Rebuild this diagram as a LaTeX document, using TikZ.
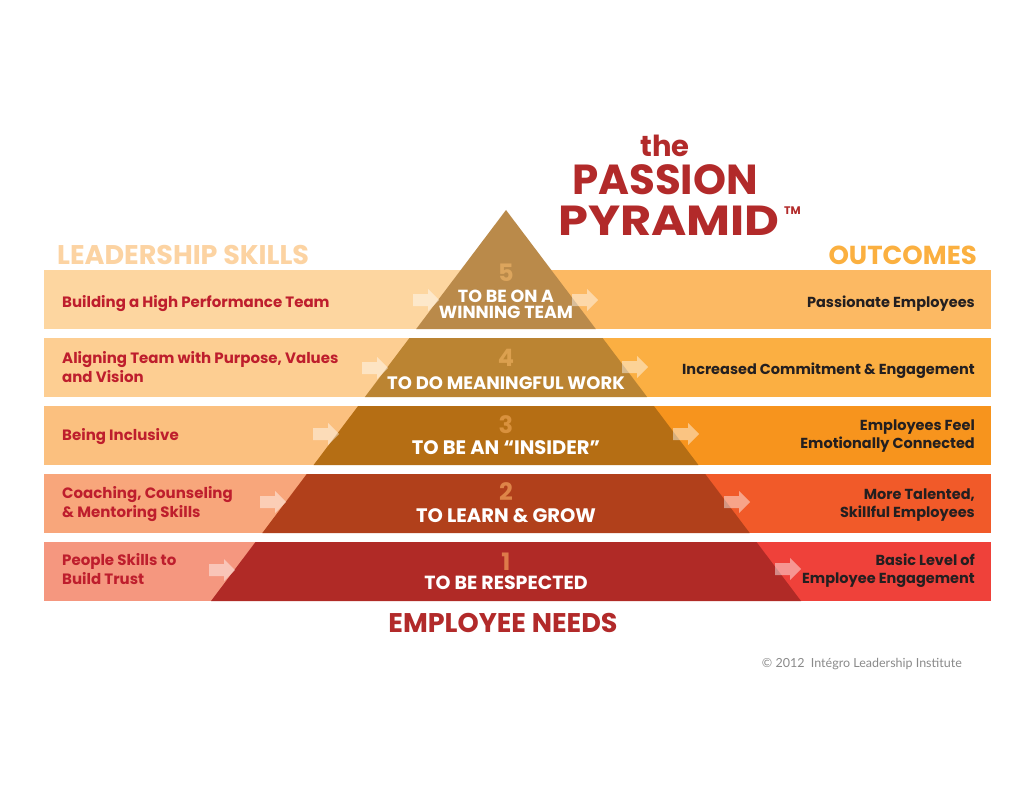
\documentclass[tikz,border=0pt]{standalone}
\usepackage{fontspec}
\setmainfont{Poppins}
\newfontfamily\notefont{Lato}

\definecolor{band5L}{HTML}{FDD6A0}
\definecolor{band5R}{HTML}{FCB963}
\definecolor{pyr5}{HTML}{BA8A4A}
\definecolor{num5}{HTML}{DCA55D}
\definecolor{band4L}{HTML}{FDCE92}
\definecolor{band4R}{HTML}{FBAF42}
\definecolor{pyr4}{HTML}{BB8432}
\definecolor{num4}{HTML}{DBA04F}
\definecolor{band3L}{HTML}{FBC07F}
\definecolor{band3R}{HTML}{F7941D}
\definecolor{pyr3}{HTML}{B56E14}
\definecolor{num3}{HTML}{D9913D}
\definecolor{band2L}{HTML}{F8A67B}
\definecolor{band2R}{HTML}{F15A29}
\definecolor{pyr2}{HTML}{B1401B}
\definecolor{num2}{HTML}{DE8548}
\definecolor{band1L}{HTML}{F5977F}
\definecolor{band1R}{HTML}{EF413A}
\definecolor{pyr1}{HTML}{B02A26}
\definecolor{num1}{HTML}{DE7A4A}
\definecolor{skillred}{HTML}{BE1E2D}
\definecolor{outdark}{HTML}{231F20}
\definecolor{titlered}{HTML}{B22A2A}
\definecolor{headpeach}{HTML}{FCD3A2}
\definecolor{headorange}{HTML}{FBB040}
\definecolor{notegray}{HTML}{8A8A8A}

\begin{document}
\begin{tikzpicture}[x=1pt, y=-1pt,
  skill/.style={anchor=base west, align=left, inner sep=0, text=skillred,
    font=\bfseries\fontsize{15}{19}\selectfont},
  outcome/.style={anchor=base east, align=right, inner sep=0, text=outdark,
    font=\bfseries\fontsize{14.5}{18}\selectfont},
  need/.style={anchor=base, align=center, inner sep=0, text=white,
    font=\bfseries\fontsize{17.5}{15.5}\selectfont},
  level/.style={anchor=base, inner sep=0, font=\bfseries\fontsize{24}{24}\selectfont},
  fwd/.style={fill=white, fill opacity=0.45}]

\fill[white] (0,0) rectangle (1024,791);
\useasboundingbox (0,0) rectangle (1024,791);

% Bands
\fill[band5L] (44,270) rectangle (506,329);
\fill[band5R] (506,270) rectangle (991,329);
\fill[band4L] (44,338) rectangle (506,397);
\fill[band4R] (506,338) rectangle (991,397);
\fill[band3L] (44,406) rectangle (506,465);
\fill[band3R] (506,406) rectangle (991,465);
\fill[band2L] (44,474) rectangle (506,533);
\fill[band2R] (506,474) rectangle (991,533);
\fill[band1L] (44,542) rectangle (506,601);
\fill[band1R] (506,542) rectangle (991,601);

% Pyramid
\fill[pyr5] (506,210) -- (595.8,329) -- (416.2,329) -- cycle;
\fill[pyr4] (409.4,338) -- (602.6,338) -- (647.1,397) -- (364.9,397) -- cycle;
\fill[pyr3] (358.1,406) -- (653.9,406) -- (698.4,465) -- (313.6,465) -- cycle;
\fill[pyr2] (306.8,474) -- (705.2,474) -- (749.7,533) -- (262.3,533) -- cycle;
\fill[pyr1] (255.5,542) -- (756.5,542) -- (801,601) -- (211,601) -- cycle;

% Arrows into the pyramid
\fill[fwd] (413,300) ++(0,-6) -- ++(15,0) -- ++(0,-5) -- ++(11,11) -- ++(-11,11) -- ++(0,-5) -- ++(-15,0) -- cycle;
\fill[fwd] (362,368) ++(0,-6) -- ++(15,0) -- ++(0,-5) -- ++(11,11) -- ++(-11,11) -- ++(0,-5) -- ++(-15,0) -- cycle;
\fill[fwd] (313,434) ++(0,-6) -- ++(15,0) -- ++(0,-5) -- ++(11,11) -- ++(-11,11) -- ++(0,-5) -- ++(-15,0) -- cycle;
\fill[fwd] (260,502) ++(0,-6) -- ++(15,0) -- ++(0,-5) -- ++(11,11) -- ++(-11,11) -- ++(0,-5) -- ++(-15,0) -- cycle;
\fill[fwd] (209,570) ++(0,-6) -- ++(15,0) -- ++(0,-5) -- ++(11,11) -- ++(-11,11) -- ++(0,-5) -- ++(-15,0) -- cycle;

% Arrows out of the pyramid
\fill[fwd] (572,300) ++(0,-6) -- ++(15,0) -- ++(0,-5) -- ++(11,11) -- ++(-11,11) -- ++(0,-5) -- ++(-15,0) -- cycle;
\fill[fwd] (622,367) ++(0,-6) -- ++(15,0) -- ++(0,-5) -- ++(11,11) -- ++(-11,11) -- ++(0,-5) -- ++(-15,0) -- cycle;
\fill[fwd] (673,434) ++(0,-6) -- ++(15,0) -- ++(0,-5) -- ++(11,11) -- ++(-11,11) -- ++(0,-5) -- ++(-15,0) -- cycle;
\fill[fwd] (724,502) ++(0,-6) -- ++(15,0) -- ++(0,-5) -- ++(11,11) -- ++(-11,11) -- ++(0,-5) -- ++(-15,0) -- cycle;
\fill[fwd] (775,569) ++(0,-6) -- ++(15,0) -- ++(0,-5) -- ++(11,11) -- ++(-11,11) -- ++(0,-5) -- ++(-15,0) -- cycle;

% Title
\node[anchor=base, inner sep=0, text=titlered, font=\bfseries\fontsize{29}{29}\selectfont] (the) at (665,157) {the};
\node[anchor=base, inner sep=0, text=titlered, font=\bfseries\fontsize{42}{42}\selectfont] (passion) at (665,195) {PASSION};
\node[anchor=base, inner sep=0, text=titlered, font=\bfseries\fontsize{42}{42}\selectfont] (pyramid) at (669,236) {\scalebox{1.14}[1]{PYRAMID}};
\node[anchor=base west, inner sep=0, text=titlered, font=\bfseries\fontsize{11}{11}\selectfont] (tm) at (784,215) {TM};

% Column heads
\node[anchor=base west, inner sep=0, text=headpeach, font=\bfseries\fontsize{27}{27}\selectfont] (skillhead) at (57,265) {LEADERSHIP SKILLS};
\node[anchor=base east, inner sep=0, text=headorange, font=\bfseries\fontsize{26}{26}\selectfont] (outhead) at (977,265) {OUTCOMES};
\node[anchor=base, inner sep=0, text=titlered, font=\bfseries\fontsize{27}{27}\selectfont] (needhead) at (503,632) {EMPLOYEE NEEDS};

% Leadership skills
\node[skill] (skill5) at (62,307) {Building a High Performance Team};
\node[skill] (skill4) at (62,382) {Aligning Team with Purpose, Values\\and Vision};
\node[skill] (skill3) at (62,440) {Being Inclusive};
\node[skill] (skill2) at (62,517) {Coaching, Counseling\\\& Mentoring Skills};
\node[skill] (skill1) at (62,584) {People Skills to\\Build Trust};

% Employee needs
\node[level, text=num5] (num5) at (506,282) {5};
\node[need] (need5) at (506,318) {TO BE ON A\\WINNING TEAM};
\node[level, text=num4] (num4) at (506,366) {4};
\node[need, font=\bfseries\fontsize{18}{18}\selectfont] (need4) at (506,389) {TO DO MEANINGFUL WORK};
\node[level, text=num3] (num3) at (506,433) {3};
\node[need, font=\bfseries\fontsize{19.5}{19.5}\selectfont] (need3) at (506,454) {TO BE AN “INSIDER”};
\node[level, text=num2] (num2) at (506,500) {2};
\node[need, font=\bfseries\fontsize{19.5}{19.5}\selectfont] (need2) at (506,522) {TO LEARN \& GROW};
\node[level, text=num1] (num1) at (506,570) {1};
\node[need, font=\bfseries\fontsize{19}{19}\selectfont] (need1) at (506,589) {TO BE RESPECTED};

% Outcomes
\node[outcome] (out5) at (975,308) {Passionate Employees};
\node[outcome] (out4) at (975,374) {Increased Commitment \& Engagement};
\node[outcome] (out3) at (975,448) {Employees Feel\hspace{4pt}\\Emotionally Connected};
\node[outcome] (out2) at (975,517) {More Talented,\\Skillful Employees};
\node[outcome] (out1) at (975,583) {Basic Level of\\Employee Engagement};

% Note
\node[anchor=base east, inner sep=0, text=notegray, font=\notefont\fontsize{12.5}{12.5}\selectfont] (note) at (962,667) {© 2012~~Intégro Leadership Institute};

\end{tikzpicture}
\end{document}
